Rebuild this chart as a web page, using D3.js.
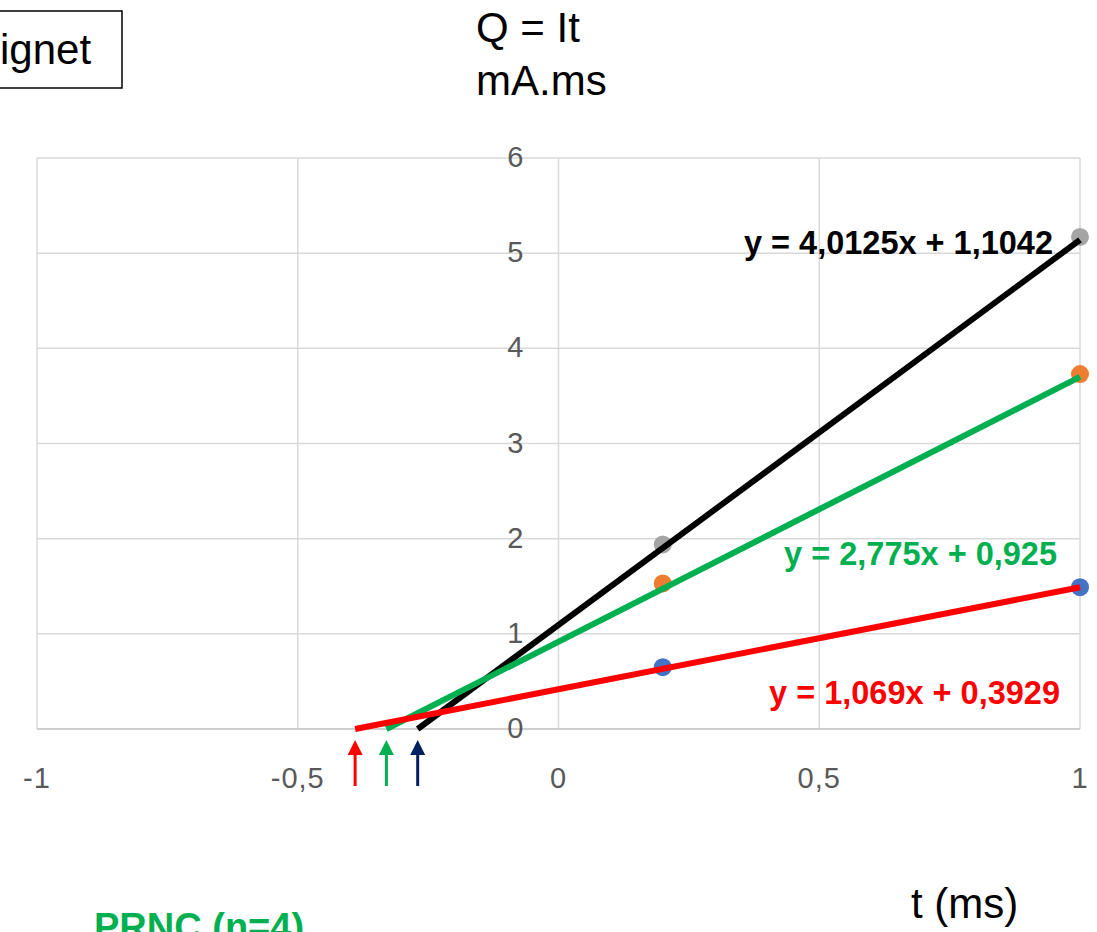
<!DOCTYPE html>
<html>
<head>
<meta charset="utf-8">
<script src="https://cdn.jsdelivr.net/npm/d3@7"></script>
<style>
  body { margin: 0; background: #fff; }
  svg { display: block; font-family: "Liberation Sans", Arial, sans-serif; }
</style>
</head>
<body>
<svg id="chart" width="1097" height="932"></svg>
<script>
// --- DATA ---
const xTicks = [-1, -0.5, 0, 0.5, 1];
const yTicks = [0, 1, 2, 3, 4, 5, 6];
const xTickLabels = ["-1", "-0,5", "0", "0,5", "1"];

// measured points (t, Q)
const seriesNames = ["gris", "orange", "bleu"];
const pointsX = [0.2, 1];
const greyValues = [1.94, 5.17];
const orangeValues = [1.53, 3.73];
const blueValues = [0.65, 1.49];

// trendlines drawn from x-intercept to x = 1
const trendNames = ["noir", "vert", "rouge"];
const trendStartX = [-0.27, -0.33, -0.39];
const trendEndY = [5.14, 3.70, 1.49];
const trendLabels = ["y = 4,0125x + 1,1042", "y = 2,775x + 0,925", "y = 1,069x + 0,3929"];

// arrows pointing at the x-intercepts
const arrowX = [-0.39, -0.33, -0.27];

// --- LAYOUT ---
const width = 1097, height = 932;
const marginLeft = 37, marginRight = 17, marginTop = 158, marginBottom = 203;

const x = d3.scaleLinear().domain([-1, 1]).range([marginLeft, width - marginRight]);
const y = d3.scaleLinear().domain([0, 6]).range([height - marginBottom, marginTop]);

const POINT_COLORS = { gris: "#a5a5a5", orange: "#ed7d31", bleu: "#4472c4" };
const LINE_COLORS = { noir: "#000000", vert: "#00b050", rouge: "#ff0000" };
const ARROW_COLORS = ["#ff0000", "#00b050", "#002060"];

const svg = d3.select("#chart");

// gridlines
svg.append("g")
    .attr("stroke", "#d9d9d9")
    .attr("stroke-width", 1.5)
  .call(g => g.selectAll("line.v").data(xTicks).join("line")
      .attr("x1", d => x(d)).attr("x2", d => x(d))
      .attr("y1", y(6)).attr("y2", y(0)))
  .call(g => g.selectAll("line.h").data(yTicks).join("line")
      .attr("x1", x(-1)).attr("x2", x(1))
      .attr("y1", d => y(d)).attr("y2", d => y(d))
      .attr("stroke", d => d === 0 ? "#bfbfbf" : null));

// y tick labels sitting left of the x = 0 line
svg.append("g")
    .attr("fill", "#595959")
    .attr("font-size", 29)
    .attr("text-anchor", "end")
  .selectAll("text").data(yTicks).join("text")
    .attr("x", x(0) - 35)
    .attr("y", d => y(d) + 9)
    .text(d => d);

// x tick labels
svg.append("g")
    .attr("fill", "#595959")
    .attr("font-size", 29)
    .attr("letter-spacing", 1)
    .attr("text-anchor", "middle")
  .selectAll("text").data(xTicks).join("text")
    .attr("x", d => x(d))
    .attr("y", y(0) + 59)
    .text((d, i) => xTickLabels[i]);

// data points
const pointSeries = [greyValues, orangeValues, blueValues];
svg.append("g")
  .selectAll("g").data(pointSeries).join("g")
    .attr("fill", (d, i) => POINT_COLORS[seriesNames[i]])
  .selectAll("circle").data(d => d.map((v, j) => [pointsX[j], v])).join("circle")
    .attr("cx", d => x(d[0]))
    .attr("cy", d => y(d[1]))
    .attr("r", 9);

// trendlines
svg.append("g")
    .attr("stroke-width", 6)
    .attr("fill", "none")
  .selectAll("line").data(trendNames).join("line")
    .attr("stroke", d => LINE_COLORS[d])
    .attr("x1", (d, i) => x(trendStartX[i]))
    .attr("y1", y(0))
    .attr("x2", x(1))
    .attr("y2", (d, i) => y(trendEndY[i]));

// equation labels
const labelPos = [[1053, 254], [1057, 565], [1060, 704]];
svg.append("g")
    .attr("font-weight", "bold")
    .attr("font-size", 32.5)
    .attr("text-anchor", "end")
  .selectAll("text").data(trendLabels).join("text")
    .attr("x", (d, i) => labelPos[i][0])
    .attr("y", (d, i) => labelPos[i][1])
    .attr("fill", (d, i) => LINE_COLORS[trendNames[i]])
    .text(d => d);

// arrows under the intercepts
const arrows = svg.append("g")
  .selectAll("g").data(arrowX).join("g")
    .attr("transform", d => `translate(${x(d)},0)`);
arrows.append("line")
    .attr("y1", 786).attr("y2", 752)
    .attr("stroke", (d, i) => ARROW_COLORS[i])
    .attr("stroke-width", 3);
arrows.append("path")
    .attr("d", "M-7.5,755L0,740L7.5,755Z")
    .attr("fill", (d, i) => ARROW_COLORS[i]);

// titles
svg.append("text").attr("x", 476).attr("y", 42).attr("font-size", 42).text("Q = It");
svg.append("text").attr("x", 476).attr("y", 95).attr("font-size", 42).text("mA.ms");
svg.append("text").attr("x", 911).attr("y", 918).attr("font-size", 42).text("t (ms)");

svg.append("rect")
    .attr("x", -5).attr("y", 11).attr("width", 127).attr("height", 77)
    .attr("fill", "none").attr("stroke", "#000").attr("stroke-width", 1.5);
svg.append("text").attr("x", 0).attr("y", 64).attr("font-size", 42).text("ignet");

svg.append("text")
    .attr("x", 94).attr("y", 940)
    .attr("font-size", 38).attr("font-weight", "bold")
    .attr("fill", "#00b050")
    .text("PRNC (n=4)");
</script>
</body>
</html>
